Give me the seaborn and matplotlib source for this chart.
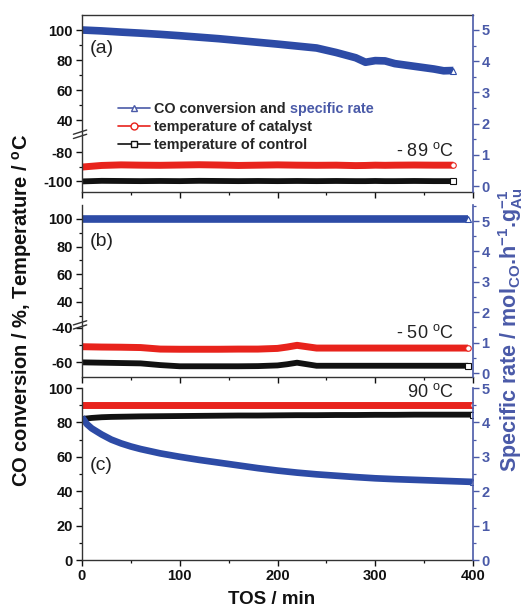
import numpy as np
import pandas as pd
import matplotlib
matplotlib.use("Agg")
import matplotlib.pyplot as plt
import seaborn as sns
from matplotlib.ticker import FixedLocator, MultipleLocator, NullFormatter

# ---------------- data ----------------
t_a = [0, 20, 40, 60, 80, 100, 120, 140, 160, 180, 200, 220, 240, 260, 280, 290, 300, 310, 320, 340, 360, 370, 380]
conv_a = [100, 99.4, 98.6, 97.9, 97.1, 96.2, 95.2, 94.2, 93.0, 91.8, 90.6, 89.3, 88.0, 85.0, 81.5, 78.5, 79.6, 79.4, 77.6, 75.8, 74.0, 72.8, 73.0]
cat_a = [-90.3, -89.2, -88.8, -89.0, -89.1, -88.9, -88.7, -88.9, -89.2, -89.0, -88.8, -89.0, -89.1, -89.0, -89.3, -89.2, -89.0, -89.1, -89.0, -88.9, -89.0, -89.0, -89.0]
ctl_a = [-100.2, -99.8, -99.9, -100.0, -99.9, -100.0, -99.8, -99.9, -100.0, -99.9, -100.0, -99.9, -100.0, -99.9, -100.0, -100.0, -99.9, -100.0, -100.0, -99.9, -100.0, -100.0, -100.0]

t_b = [0, 20, 40, 60, 80, 100, 120, 140, 160, 180, 200, 210, 220, 230, 240, 260, 280, 300, 320, 340, 360, 380, 395]
conv_b = [100] * 23
cat_b = [-51.0, -51.2, -51.3, -51.5, -52.4, -52.5, -52.5, -52.5, -52.4, -52.4, -52.0, -51.2, -50.2, -51.0, -51.8, -51.8, -51.8, -51.8, -51.8, -51.8, -51.8, -51.8, -51.8]
ctl_b = [-60.2, -60.4, -60.6, -60.8, -61.8, -62.5, -62.5, -62.5, -62.5, -62.4, -62.0, -61.3, -60.4, -61.3, -62.2, -62.2, -62.2, -62.2, -62.2, -62.2, -62.2, -62.2, -62.2]

t_c = [0, 5, 10, 20, 30, 40, 50, 60, 80, 100, 120, 140, 160, 180, 200, 220, 240, 260, 280, 300, 320, 340, 360, 380, 400]
conv_c = [83, 79, 76.5, 73, 70, 67.8, 66, 64.5, 62, 60, 58.2, 56.6, 55, 53.4, 52, 50.8, 49.8, 49, 48.2, 47.5, 47, 46.6, 46.2, 45.8, 45.4]
cat_c = [90.0] * 25
ctl_c = [82.0, 82.3, 82.6, 83.0, 83.2, 83.3, 83.4, 83.5, 83.6, 83.7, 83.8, 83.9, 84.0, 84.0, 84.1, 84.2, 84.2, 84.3, 84.3, 84.4, 84.4, 84.5, 84.5, 84.5, 84.5]

panel_labels = ["(a)", "(b)", "(c)"]
temp_labels = ["- 89 $\\mathrm{^{o}}$C", "- 50 $\\mathrm{^{o}}$C", "90 $\\mathrm{^{o}}$C"]
legend_labels = ["CO conversion and", "temperature of catalyst", "temperature of control"]
legend_extra = " specific rate"
x_ticks = [0, 100, 200, 300, 400]

# ---------------- style ----------------
sns.set_theme(style="ticks")
plt.rcParams['font.family'] = ['Liberation Sans', 'DejaVu Sans']
plt.rcParams['mathtext.fontset'] = 'custom'
plt.rcParams['mathtext.rm'] = 'Liberation Sans'
plt.rcParams['mathtext.bf'] = 'Liberation Sans:bold'
plt.rcParams['mathtext.it'] = 'Liberation Sans:italic'

BLUE = "#2d4ba6"
RBLUE = "#4a5aa8"
RED = "#e8231c"
BLACK = "#111111"
TICK_FS = 10.5

fig = plt.figure(figsize=(5.29, 6.07), dpi=100)

L, R = 82 / 529, 473 / 529
H = 607.0


def rect(top, bot):
    return [L, 1 - bot / H, R - L, (bot - top) / H]


def break_scale(hi, lo, s_hi, s_lo):
    def fwd(v):
        v = np.asarray(v, dtype=float)
        return np.where(v >= hi, s_hi * (v - hi), np.where(v <= lo, s_lo * (v - lo), 0.0))

    def inv(y):
        y = np.asarray(y, dtype=float)
        return np.where(y >= 0, y / s_hi + hi, y / s_lo + lo)
    return fwd, inv


panels = [
    dict(rect=rect(15, 192), t=t_a, conv=conv_a, cat=cat_a, ctl=ctl_a,
         brk=(30.5, -67.7, 1.51, 1.46), ylim=(-107.5, 110), rlim=(-0.19, 5.48),
         major=[-100, -80, 40, 60, 80, 100], minor=[-90, 50, 70, 90],
         lab_y=0.81, temp_y=0.232, top=True),
    dict(rect=rect(205, 377), t=t_b, conv=conv_b, cat=cat_b, ctl=ctl_b,
         brk=(23.4, -38.2, 1.383, 1.7), ylim=(-68.8, 110), rlim=(-0.13, 5.53),
         major=[-60, -40, 40, 60, 80, 100], minor=[-50, 30, 50, 70, 90],
         lab_y=0.785, temp_y=0.256, top=False),
    dict(rect=rect(388, 560), t=t_c, conv=conv_c, cat=cat_c, ctl=ctl_c,
         brk=None, ylim=(0, 100), rlim=(0, 5),
         major=[0, 20, 40, 60, 80, 100], minor=[10, 30, 50, 70, 90],
         lab_y=0.552, temp_y=0.977, top=False),
]

axes = []
for i, p in enumerate(panels):
    ax = fig.add_axes(p['rect'])
    ax.set_facecolor('none')
    if p['brk'] is not None:
        ax.set_yscale('function', functions=break_scale(*p['brk']))
    df = pd.DataFrame({'t': p['t'], 'conv': p['conv'], 'cat': p['cat'], 'ctl': p['ctl']})
    sns.lineplot(data=df, x='t', y='ctl', ax=ax, color=BLACK, linewidth=4.2, solid_capstyle='butt')
    sns.lineplot(data=df, x='t', y='cat', ax=ax, color=RED, linewidth=5.0, solid_capstyle='butt')
    sns.lineplot(data=df, x='t', y='conv', ax=ax, color=BLUE, linewidth=5.5 if i < 2 else 4.8,
                 solid_capstyle='butt')
    ax.plot(df['t'].iloc[-1:], df['ctl'].iloc[-1:], 's', ms=4, mfc='white', mec=BLACK, mew=0.8)
    ax.plot(df['t'].iloc[-1:], df['cat'].iloc[-1:], 'o', ms=4, mfc='white', mec=RED, mew=0.8)
    ax.plot(df['t'].iloc[-1:], df['conv'].iloc[-1:], '^', ms=5, mfc='white', mec=BLUE, mew=0.8)

    ax.set_xlim(0, 400)
    ax.set_ylim(*p['ylim'])
    ax.yaxis.set_major_locator(FixedLocator(p['major']))
    ax.yaxis.set_minor_locator(FixedLocator(p['minor']))
    ax.yaxis.set_minor_formatter(NullFormatter())
    ax.set_yticklabels([str(v) for v in p['major']], fontweight='bold')
    ax.xaxis.set_major_locator(FixedLocator(x_ticks))
    ax.xaxis.set_minor_locator(MultipleLocator(50))
    ax.tick_params(axis='both', which='major', length=4, direction='out', width=1.0,
                   colors=BLACK, labelsize=TICK_FS, pad=2.5)
    ax.tick_params(axis='both', which='minor', length=2, direction='out', width=0.9, colors=BLACK)
    if i < 2:
        ax.set_xticklabels([])
    else:
        ax.set_xticklabels([str(v) for v in x_ticks], fontweight='bold')
    ax.set_xlabel('')
    ax.set_ylabel('')
    for s in ['left', 'bottom', 'top']:
        ax.spines[s].set_linewidth(1.0)
        ax.spines[s].set_color('#333333')
    ax.spines['right'].set_visible(False)
    ax.spines['top'].set_visible(p['top'])

    # axis break marks
    if p['brk'] is not None:
        fwd = break_scale(*p['brk'])[0]
        y0, y1 = fwd(p['ylim'][0]), fwd(p['ylim'][1])
        yb = float((0 - y0) / (y1 - y0))
        for dy in (-0.012, 0.012):
            ax.plot([-0.022, 0.012], [yb + dy - 0.012, yb + dy + 0.012], transform=ax.transAxes,
                    color='#333333', lw=1.0, clip_on=False)

    # right axis (specific rate)
    ax2 = ax.twinx()
    ax2.set_position(p['rect'])
    ax2.set_ylim(*p['rlim'])
    ax2.yaxis.set_major_locator(FixedLocator([0, 1, 2, 3, 4, 5]))
    ax2.yaxis.set_minor_locator(MultipleLocator(0.5))
    ax2.set_yticklabels(['0', '1', '2', '3', '4', '5'], fontweight='bold')
    ax2.tick_params(axis='y', which='major', length=4, direction='out', width=1.0,
                    colors=RBLUE, labelsize=TICK_FS, pad=2)
    ax2.tick_params(axis='y', which='minor', length=2, direction='out', width=0.9, colors=RBLUE)
    for s in ['left', 'bottom', 'top']:
        ax2.spines[s].set_visible(False)
    ax2.spines['right'].set_color(RBLUE)
    ax2.spines['right'].set_linewidth(1.2)

    ax.text(0.02, p['lab_y'], panel_labels[i], transform=ax.transAxes, fontsize=14,
            va='center', ha='left', color='#222222')
    ax.text(0.952, p['temp_y'], temp_labels[i], transform=ax.transAxes, fontsize=13,
            va='center', ha='right', color='#222222')
    axes.append(ax)

# legend in panel (a)
ax = axes[0]
handles = [
    plt.Line2D([], [], color=RBLUE, lw=1.2, marker='^', ms=5, mfc='white', mec=RBLUE),
    plt.Line2D([], [], color=RED, lw=1.2, marker='o', ms=5, mfc='white', mec=RED),
    plt.Line2D([], [], color=BLACK, lw=1.2, marker='s', ms=4.5, mfc='white', mec=BLACK),
]
leg = ax.legend(handles, legend_labels, loc='upper left', bbox_to_anchor=(0.093, 0.51),
                frameon=False, borderpad=0, borderaxespad=0, handlelength=2.2,
                handletextpad=0.3, labelspacing=0.28, prop=dict(weight='bold', size=10.4))

# axis labels
fig.text(22 / 529, 1 - 310 / H, "CO conversion / %, Temperature / $\\mathbf{^{o}}$C",
         rotation=90, va='center', ha='center', fontsize=14.5, fontweight='bold', color=BLACK)
fig.text(511 / 529, 1 - 330 / H,
         "Specific rate / mol$_{\\mathbf{CO}}$.h$^{\\mathbf{-1}}$.g$^{\\mathbf{-1}}_{\\mathbf{Au}}$",
         rotation=90, va='center', ha='center', fontsize=15.5, fontweight='bold', color=RBLUE)
fig.text(272 / 529, 1 - 599 / H, "TOS / min", va='center', ha='center',
         fontsize=13.5, fontweight='bold', color=BLACK)

# blue part of the first legend entry, placed right after its text
fig.canvas.draw()
first = leg.get_texts()[0]
bb = first.get_window_extent(fig.canvas.get_renderer())
fx, fy = fig.transFigure.inverted().transform((bb.x1, bb.y0))
fig.text(fx, fy, legend_extra, va='bottom', ha='left', fontsize=10.4,
         fontweight='bold', color=RBLUE)

fig.savefig("out.png", dpi=100)
